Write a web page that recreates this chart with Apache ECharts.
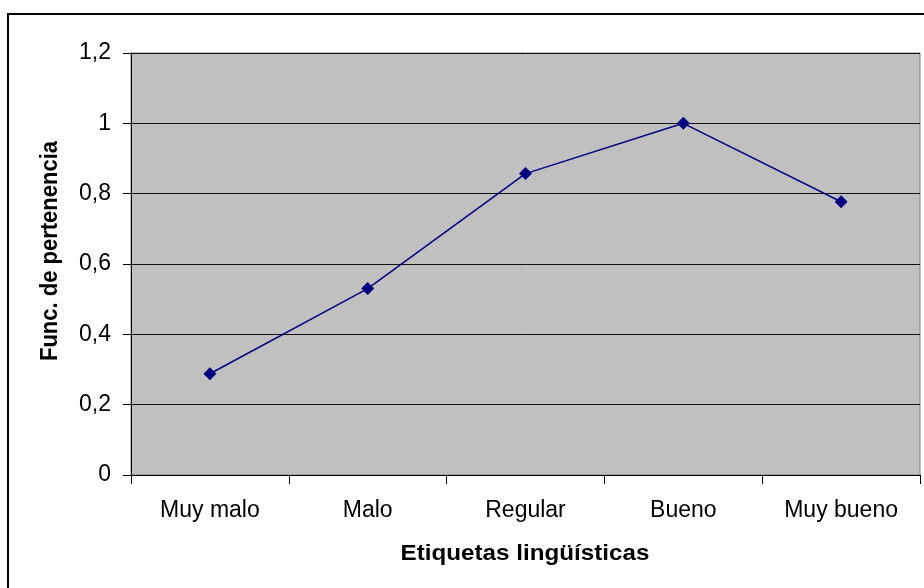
<!DOCTYPE html>
<html>
<head>
<meta charset="utf-8">
<script src="https://cdn.jsdelivr.net/npm/echarts@6/dist/echarts.min.js"></script>
<style>
  html, body { margin: 0; padding: 0; background: #ffffff; }
  #chart { width: 924px; height: 588px; }
</style>
</head>
<body>
<div id="chart"></div>
<script>
// Linguistic labels and their membership degrees
const categories = ['Muy malo', 'Malo', 'Regular', 'Bueno', 'Muy bueno'];
const membership = [0.288, 0.53, 0.857, 1, 0.777];
const yTicks = { min: 0, max: 1.2, step: 0.2 };
const xTitle = 'Etiquetas lingüísticas';
const yTitle = 'Func. de pertenencia';

const FONT = '"Liberation Sans", Arial, sans-serif';

const chart = echarts.init(document.getElementById('chart'), null, { renderer: 'canvas' });

chart.setOption({
  backgroundColor: '#ffffff',
  animation: false,
  grid: {
    left: 131,
    top: 53,
    right: 4,
    bottom: 113,
    show: true,
    backgroundColor: '#c0c0c0',
    borderColor: '#808080',
    borderWidth: 1
  },
  xAxis: {
    type: 'category',
    data: categories,
    boundaryGap: true,
    axisLine: { show: true, lineStyle: { color: '#000000', width: 1 } },
    axisTick: { show: true, length: 9, inside: false, alignWithLabel: false, lineStyle: { color: '#000000' } },
    axisLabel: { color: '#000000', fontFamily: FONT, fontSize: 23, margin: 24 },
    splitLine: { show: false }
  },
  yAxis: {
    type: 'value',
    min: yTicks.min,
    max: yTicks.max,
    interval: yTicks.step,
    axisLine: { show: true, lineStyle: { color: '#000000', width: 1 } },
    axisTick: { show: true, length: 8, inside: false, lineStyle: { color: '#000000' } },
    axisLabel: {
      color: '#000000',
      fontFamily: FONT,
      fontSize: 23,
      margin: 20,
      formatter: v => String(Math.round(v * 10) / 10).replace('.', ',')
    },
    splitLine: { show: true, lineStyle: { color: '#111111', width: 1 } }
  },
  series: [{
    type: 'line',
    data: membership,
    symbol: 'diamond',
    symbolSize: 13,
    lineStyle: { color: '#000080', width: 1.5 },
    itemStyle: { color: '#000080' },
    z: 5
  }],
  graphic: [
    {
      type: 'rect',
      shape: { x: 8, y: 14, width: 940, height: 600 },
      style: { fill: 'none', stroke: '#000000', lineWidth: 2 },
      silent: true
    },
    {
      type: 'text',
      x: 50,
      y: 251,
      rotation: Math.PI / 2,
      scaleY: 1.08,
      style: {
        text: yTitle,
        font: 'bold 22px ' + FONT,
        fill: '#000000',
        align: 'center',
        verticalAlign: 'middle'
      }
    },
    {
      type: 'text',
      x: 525,
      y: 554,
      scaleX: 1.1,
      style: {
        text: xTitle,
        font: 'bold 22px ' + FONT,
        fill: '#000000',
        align: 'center',
        verticalAlign: 'middle'
      }
    }
  ]
});
</script>
</body>
</html>
